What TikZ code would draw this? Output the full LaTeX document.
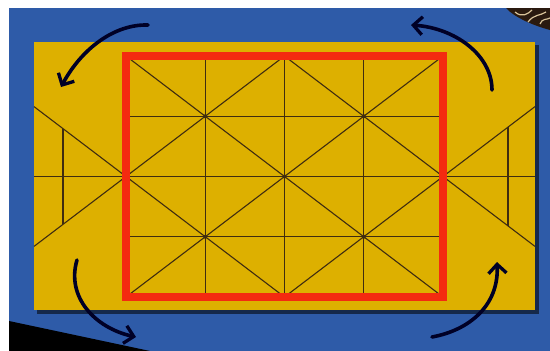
\documentclass[tikz,border=0pt]{standalone}
\usetikzlibrary{arrows.meta}
\definecolor{bg}{HTML}{2E5BA8}
\definecolor{board}{HTML}{DDB000}
\definecolor{redsq}{HTML}{F42A10}
\definecolor{ink}{HTML}{3F2C10}
\definecolor{deco}{HTML}{2A1A10}
\definecolor{tan}{HTML}{D8C39A}
\begin{document}
\begin{tikzpicture}[x=1pt,y=-1pt,
  gridline/.style={ink, line width=1.1pt},
  curvearrow/.style={line width=3.6pt, black!85!blue, line cap=round,
    -{Straight Barb[length=9pt,width=18pt,line width=3.3pt]}},
  dotmark/.style={fill=ink}]
\useasboundingbox (0,0) rectangle (550,351);
\fill[white] (0,0) rectangle (550,351);
\fill[bg] (9,8) rectangle (550,351);
\fill[black] (9,321) -- (150,351) -- (9,351) -- cycle;
% top-right decoration
\fill[deco] (506,8) -- (550,8) -- (550,30) .. controls (535,26) and (515,18) .. cycle;
\draw[tan, line width=1.2pt] (515,12) .. controls (522,18) and (528,14) .. (532,10);
\draw[tan, line width=1.2pt] (528,22) .. controls (534,14) and (540,16) .. (546,12);
\draw[tan, line width=1.2pt] (540,24) .. controls (542,18) and (547,20) .. (550,18);
% board
\fill[black!55!bg] (37,45) rectangle (539,314);
\fill[board] (34,42) rectangle (535,310);
% key points
\coordinate (TL) at (126,56);   \coordinate (TM) at (284.5,56);   \coordinate (TR) at (443,56);
\coordinate (ML) at (126,176.5); \coordinate (C) at (284.5,176.5); \coordinate (MR) at (443,176.5);
\coordinate (BL) at (126,297);  \coordinate (BM) at (284.5,297);  \coordinate (BR) at (443,297);
\coordinate (EL) at (34,176.5); \coordinate (ER) at (535,176.5);
\coordinate (ELt) at (34,106.6); \coordinate (ELb) at (34,246.4);
\coordinate (ERt) at (535,106.6); \coordinate (ERb) at (535,246.4);
\coordinate (VLt) at (63,128.6); \coordinate (VLb) at (63,224.4);
\coordinate (VRt) at (508,127.1); \coordinate (VRb) at (508,225.9);
\coordinate (P1) at (205.25,116.25); \coordinate (P2) at (363.75,116.25);
\coordinate (P3) at (205.25,236.75); \coordinate (P4) at (363.75,236.75);
% grid lines
\draw[gridline] (126,116.25) -- (443,116.25);
\draw[gridline] (126,236.75) -- (443,236.75);
\draw[gridline] (EL) -- (ER);
\draw[gridline] (205.25,56) -- (205.25,297);
\draw[gridline] (TM) -- (BM);
\draw[gridline] (363.75,56) -- (363.75,297);
\draw[gridline] (TL) -- (BR);
\draw[gridline] (TR) -- (BL);
\draw[gridline] (TM) -- (ML) -- (BM) -- (MR) -- cycle;
\draw[gridline] (ELt) -- (ML) -- (ELb);
\draw[gridline] (ERt) -- (MR) -- (ERb);
\draw[gridline] (VLt) -- (VLb);
\draw[gridline] (VRt) -- (VRb);
% red square
\draw[redsq, line width=8.5pt] (TL) rectangle (BR);
% dots
\foreach \p in {P1,P2,P3,P4,C} \fill[dotmark] (\p) circle (2pt);
% arrows
\coordinate (a1s) at (148,25); \coordinate (a1e) at (61,87);
\coordinate (a2s) at (492,90); \coordinate (a2e) at (411,25);
\coordinate (a3s) at (77,260); \coordinate (a3e) at (136,337);
\coordinate (a4s) at (432,337); \coordinate (a4e) at (497,262);
\draw[curvearrow] (a1s) .. controls (115,24) and (82,48) .. (a1e);
\draw[curvearrow] (a2s) .. controls (492,55) and (455,28) .. (a2e);
\draw[curvearrow] (a3s) .. controls (66,297) and (95,328) .. (a3e);
\draw[curvearrow] (a4s) .. controls (470,330) and (499,305) .. (a4e);
\end{tikzpicture}
\end{document}
